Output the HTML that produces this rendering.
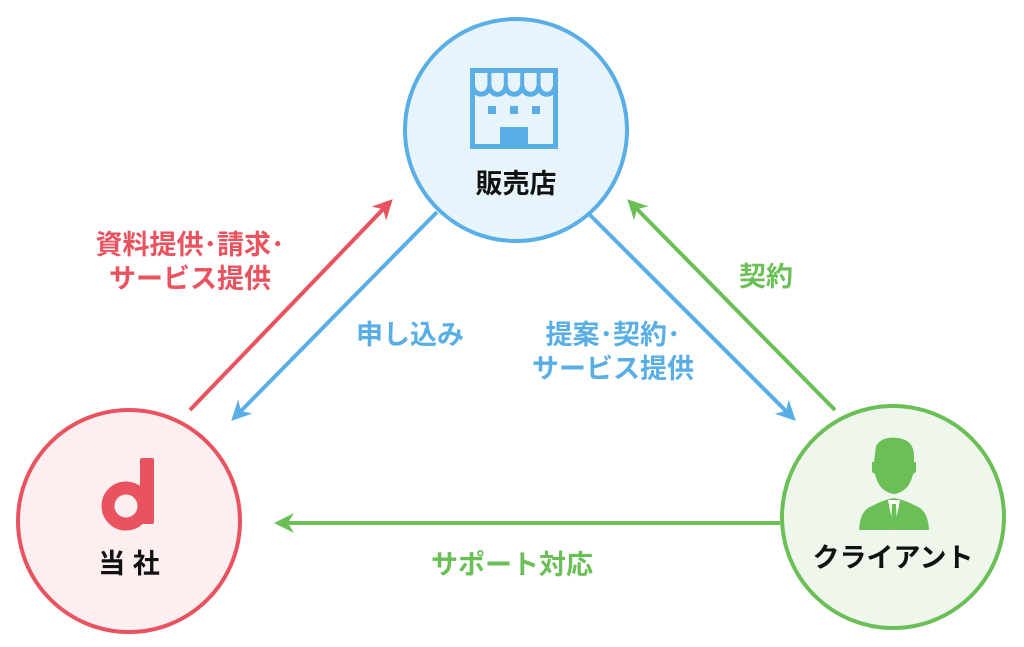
<!DOCTYPE html>
<html><head><meta charset="utf-8"><style>
html,body{margin:0;padding:0;background:#fff}
svg{display:block}
text{font-family:"Liberation Sans","Noto Sans CJK JP",sans-serif;font-weight:bold}
</style></head><body>
<svg width="1024" height="647" viewBox="0 0 1024 647">
<defs>
<marker id="ar" viewBox="0 0 10 10" refX="8" refY="5" markerWidth="5" markerHeight="5" orient="auto"><path d="M0,0 L10,5 L0,10 L3,5z" fill="#e9535f"/></marker>
<marker id="ab" viewBox="0 0 10 10" refX="8" refY="5" markerWidth="5" markerHeight="5" orient="auto"><path d="M0,0 L10,5 L0,10 L3,5z" fill="#5aaee6"/></marker>
<marker id="ag" viewBox="0 0 10 10" refX="8" refY="5" markerWidth="5" markerHeight="5" orient="auto"><path d="M0,0 L10,5 L0,10 L3,5z" fill="#6abf56"/></marker>
</defs>
<g stroke-width="4" fill="none">
<line x1="190" y1="410" x2="390" y2="202" stroke="#e9535f" marker-end="url(#ar)"/>
<line x1="437" y1="212" x2="234" y2="418" stroke="#5aaee6" marker-end="url(#ab)"/>
<line x1="590" y1="215" x2="793" y2="418" stroke="#5aaee6" marker-end="url(#ab)"/>
<line x1="835" y1="410" x2="630" y2="202" stroke="#6abf56" marker-end="url(#ag)"/>
<line x1="780" y1="523" x2="278" y2="523" stroke="#6abf56" marker-end="url(#ag)"/>
</g>
<circle cx="516" cy="130" r="111" fill="#e8f4fc" stroke="#5aaee6" stroke-width="4"/>
<circle cx="129" cy="521" r="111" fill="#fdeef0" stroke="#e9535f" stroke-width="4"/>
<circle cx="893" cy="517" r="111" fill="#eff7ec" stroke="#6abf56" stroke-width="4"/>
<g stroke="#5aaee6" stroke-width="5" fill="none">
<rect x="472.5" y="70.5" width="83" height="76"/>
<path d="M473,86 a8.2,8.2 0 0 0 16.4,0 a8.2,8.2 0 0 0 16.4,0 a8.2,8.2 0 0 0 16.4,0 a8.2,8.2 0 0 0 16.4,0 a8.2,8.2 0 0 0 16.4,0"/>
<path d="M489.4,72 V86 M505.8,72 V86 M522.2,72 V86 M538.6,72 V86" stroke-width="4"/>
</g>
<g fill="#5aaee6">
<rect x="488" y="106" width="8" height="8"/><rect x="510" y="106" width="8" height="8"/><rect x="532" y="106" width="8" height="8"/>
<rect x="500" y="127" width="28" height="20"/>
</g>
<text x="516" y="193" font-size="27" text-anchor="middle" fill="#111">販売店</text>
<g fill="#e9535f">
<rect x="140" y="458" width="14" height="66" rx="2"/>
<circle cx="126" cy="506" r="18" fill="none" stroke="#e9535f" stroke-width="13"/>
</g>
<text x="129" y="573" font-size="27" text-anchor="middle" fill="#111">当 社</text>
<g fill="#6abf56">
<path d="M876,446 q6,-10 22,-8 q16,2 16,18 v6 l2,0 v10 l-3,2 q-4,18 -19,20 q-15,-2 -19,-20 l-3,-2 v-10 l2,0 z"/>
<path d="M872,506 q11,-6 22,-8 q11,2 22,8 q12,4 13,24 h-70 q1,-20 13,-24z"/>
</g>
<path d="M888,500 l6,30 l6,-30 z" fill="#fff"/>
<path d="M892,504 h4 l1,22 l-3,3 l-3,-3z" fill="#6abf56"/>
<text x="893" y="567" font-size="27" text-anchor="middle" fill="#111">クライアント</text>
<g font-size="27">
<text x="190" y="254" text-anchor="middle" fill="#e9535f">資料提供･請求･</text>
<text x="190" y="288" text-anchor="middle" fill="#e9535f">サービス提供</text>
<text x="410" y="344" text-anchor="middle" fill="#5aaee6">申し込み</text>
<text x="613" y="344" text-anchor="middle" fill="#5aaee6">提案･契約･</text>
<text x="613" y="378" text-anchor="middle" fill="#5aaee6">サービス提供</text>
<text x="766" y="286" text-anchor="middle" fill="#6abf56">契約</text>
<text x="512" y="574" text-anchor="middle" fill="#6abf56">サポート対応</text>
</g>
</svg>
</body></html>
